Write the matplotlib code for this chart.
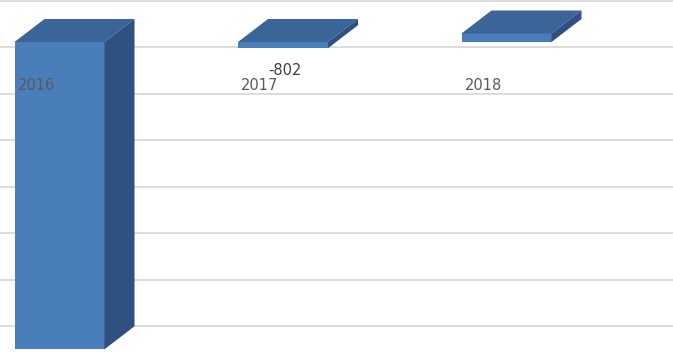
import numpy as np
import matplotlib
matplotlib.use("Agg")
import matplotlib.pyplot as plt
from matplotlib.patches import Polygon, Rectangle

# data
categories = ["2016", "2017", "2018"]
values = [-39700, -802, 1100]
labelled = [False, True, False]   # which bars carry a value label

# layout (axis units: x = category index, y = value)
PX_W, PX_H = 673, 352
X_UNIT_PX = 223.5            # pixels between neighbouring categories
X0_PX = 59.5                 # pixel of first category centre
Y_UNIT_PER_PX = 129.2        # value units per pixel
ZERO_PX = 42                 # pixel row of the zero plane (front)
BAR_W = 90 / X_UNIT_PX
DEPTH_X = 30 / X_UNIT_PX
DEPTH_Y = 23 * Y_UNIT_PER_PX
GRID_LEVELS = np.arange(5300, -41000, -6000)

FRONT = "#4a7ebb"
TOP = "#3b6499"
SIDE = "#2f5182"
GRID = "#d9d9d9"

fig = plt.figure(figsize=(PX_W / 100, PX_H / 100), dpi=100)
ax = fig.add_axes([0, 0, 1, 1])
ax.set_xlim(-X0_PX / X_UNIT_PX, (PX_W - X0_PX) / X_UNIT_PX)
ax.set_ylim(-(PX_H - ZERO_PX) * Y_UNIT_PER_PX, ZERO_PX * Y_UNIT_PER_PX)
ax.axis("off")

for g in GRID_LEVELS:
    ax.axhline(g, color=GRID, lw=1.3, zorder=0)

for i, (cat, v, lab) in enumerate(zip(categories, values, labelled)):
    xl, xr = i - BAR_W / 2, i + BAR_W / 2
    top, bot = max(v, 0), min(v, 0)
    # front face
    ax.add_patch(Rectangle((xl, bot), BAR_W, top - bot, facecolor=FRONT,
                           edgecolor="none", zorder=2))
    # top face
    ax.add_patch(Polygon([(xl, top), (xl + DEPTH_X, top + DEPTH_Y),
                          (xr + DEPTH_X, top + DEPTH_Y), (xr, top)],
                         closed=True, facecolor=TOP, edgecolor="none", zorder=2))
    # side face
    ax.add_patch(Polygon([(xr, top), (xr + DEPTH_X, top + DEPTH_Y),
                          (xr + DEPTH_X, bot + DEPTH_Y), (xr, bot)],
                         closed=True, facecolor=SIDE, edgecolor="none", zorder=2))
    # category label
    ax.annotate(cat, xy=(xl, 0), xytext=(3, -44), textcoords="offset pixels",
                ha="left", va="center", fontsize=10.5, color="#595959",
                family="DejaVu Sans", zorder=3)
    if lab:
        ax.annotate(f"{v}", xy=(i, bot), xytext=(2, -22),
                    textcoords="offset pixels", ha="center", va="center",
                    fontsize=10.5, color="#404040", family="DejaVu Sans",
                    zorder=3)

fig.savefig("out.png", dpi=100)
